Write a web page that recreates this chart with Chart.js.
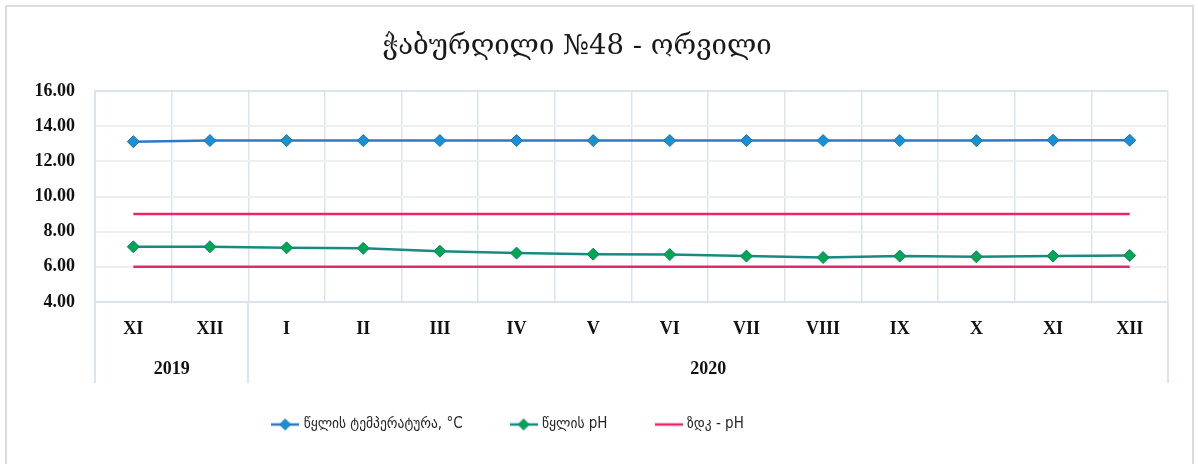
<!DOCTYPE html>
<html>
<head>
<meta charset="utf-8">
<script src="https://cdn.jsdelivr.net/npm/chart.js@4.4.1/dist/chart.umd.min.js"></script>
<style>
  html, body { margin: 0; padding: 0; background: #ffffff; }
  #wrap { position: relative; width: 1198px; height: 464px; overflow: hidden; background: #fff; }
  #frame { position: absolute; left: 5px; top: 5px; width: 1189px; height: 480px; border: 2px solid #dcdcdc; box-sizing: border-box; }
  #c { position: absolute; left: 0; top: 0; }
</style>
</head>
<body>
<div id="wrap">
  <div id="frame"></div>
  <canvas id="c" width="1198" height="464"></canvas>
</div>
<script>
// ---- data ----
const titleText = 'ჭაბურღილი №48 - ორვილი';
const categories = ['XI', 'XII', 'I', 'II', 'III', 'IV', 'V', 'VI', 'VII', 'VIII', 'IX', 'X', 'XI', 'XII'];
const years = ['2019', '2020'];
const yearSpans = [2, 12];
const temperature = [13.12, 13.18, 13.18, 13.18, 13.18, 13.18, 13.18, 13.18, 13.18, 13.18, 13.18, 13.18, 13.2, 13.2];
const waterPH = [7.14, 7.14, 7.08, 7.05, 6.89, 6.78, 6.72, 6.70, 6.61, 6.53, 6.61, 6.57, 6.61, 6.65];
const limitUpper = [9, 9, 9, 9, 9, 9, 9, 9, 9, 9, 9, 9, 9, 9];
const limitLower = [6, 6, 6, 6, 6, 6, 6, 6, 6, 6, 6, 6, 6, 6];
const seriesNames = ['წყლის ტემპერატურა, °C', 'წყლის pH', 'ზდკ - pH'];
const yTicks = { min: 4, max: 16, step: 2 };

// ---- styles ----
const C_TEMP_LINE = '#2f78c4', C_TEMP_PT = '#1790d4', C_TEMP_PT_B = '#1f6fae';
const C_PH_LINE = '#178a82', C_PH_PT = '#00a651', C_PH_PT_B = '#12806a';
const C_LIM = '#e8266e';
const GRID_BLUE = '#dbe3f1', GRID_GRAY = '#efefef';
const tickFont = { family: '"Liberation Serif", "DejaVu Serif", serif', size: 18, weight: 'bold' };

function legendIcon(lineColor, fill, stroke, marker) {
  const c = document.createElement('canvas');
  c.width = 28; c.height = 14;
  const g = c.getContext('2d');
  g.strokeStyle = lineColor; g.lineWidth = 2.5;
  g.beginPath(); g.moveTo(0, 7); g.lineTo(28, 7); g.stroke();
  if (marker) {
    g.fillStyle = fill; g.strokeStyle = stroke; g.lineWidth = 1;
    g.beginPath(); g.moveTo(14, 1.5); g.lineTo(19.5, 7); g.lineTo(14, 12.5); g.lineTo(8.5, 7); g.closePath();
    g.fill(); g.stroke();
  }
  return c;
}
const icons = [
  legendIcon(C_TEMP_LINE, C_TEMP_PT, C_TEMP_PT_B, true),
  legendIcon(C_PH_LINE, C_PH_PT, C_PH_PT_B, true),
  legendIcon(C_LIM, null, null, false)
];

// year group positions (centre index of each group)
const yearCenters = [];
(function () { let s = 0; for (const n of yearSpans) { yearCenters.push(s + (n - 1) / 2); s += n; } })();
const yearBounds = [];
(function () { let s = 0; yearBounds.push(-0.5); for (const n of yearSpans) { s += n; yearBounds.push(s - 0.5); } })();

const titlePlugin = {
  id: 'customTitle',
  afterDraw(chart) {
    const ctx = chart.ctx;
    ctx.save();
    ctx.font = '27.5px "DejaVu Serif", serif';
    ctx.fillStyle = '#1a1a1a';
    ctx.textAlign = 'center';
    ctx.textBaseline = 'middle';
    ctx.fillText(titleText, 577, 47);
    ctx.restore();
  }
};

const groupLinesPlugin = {
  id: 'groupLines',
  afterDraw(chart) {
    const x2 = chart.scales.x2;
    const ctx = chart.ctx;
    ctx.save();
    ctx.strokeStyle = GRID_BLUE;
    ctx.lineWidth = 2;
    const yTop = chart.chartArea.bottom;
    const yBot = chart.chartArea.bottom + 81;
    for (const b of yearBounds) {
      const px = Math.round(x2.getPixelForValue(b));
      ctx.beginPath(); ctx.moveTo(px, yTop); ctx.lineTo(px, yBot); ctx.stroke();
    }
    ctx.restore();
  }
};

// the legend in the reference sits left of the canvas centre and a bit higher
const legendShiftPlugin = {
  id: 'legendShift',
  afterLayout(chart) {
    const lg = chart.legend;
    if (lg) { lg.left -= 80; lg.right -= 80; lg.top -= 20; lg.bottom -= 20; }
  }
};

new Chart(document.getElementById('c'), {
  type: 'line',
  data: {
    labels: categories,
    datasets: [
      { label: seriesNames[0], data: temperature, borderColor: C_TEMP_LINE, backgroundColor: C_TEMP_PT,
        pointBackgroundColor: C_TEMP_PT, pointBorderColor: C_TEMP_PT_B, pointBorderWidth: 1,
        pointStyle: 'rectRot', pointRadius: 6, borderWidth: 2.5, tension: 0 },
      { label: seriesNames[1], data: waterPH, borderColor: C_PH_LINE, backgroundColor: C_PH_PT,
        pointBackgroundColor: C_PH_PT, pointBorderColor: C_PH_PT_B, pointBorderWidth: 1,
        pointStyle: 'rectRot', pointRadius: 6, borderWidth: 2.5, tension: 0 },
      { label: seriesNames[2], data: limitUpper, borderColor: C_LIM, backgroundColor: C_LIM,
        pointRadius: 0, borderWidth: 2.5 },
      { label: seriesNames[2] + ' ', data: limitLower, borderColor: C_LIM, backgroundColor: C_LIM,
        pointRadius: 0, borderWidth: 2.5 }
    ]
  },
  options: {
    responsive: false,
    animation: false,
    layout: { padding: { left: 10, right: 30, top: 91, bottom: 2 } },
    plugins: {
      title: { display: false },
      tooltip: { enabled: false },
      legend: {
        position: 'bottom',
        labels: {
          usePointStyle: true,
          pointStyleWidth: 22,
          padding: 50,
          color: '#262626',
          font: { family: '"DejaVu Sans Condensed", "DejaVu Sans", sans-serif', size: 15 },
          generateLabels(chart) {
            const items = Chart.defaults.plugins.legend.labels.generateLabels(chart);
            return items.filter(it => it.datasetIndex < 3).map(it => {
              it.pointStyle = icons[it.datasetIndex];
              return it;
            });
          }
        }
      }
    },
    scales: {
      x: {
        type: 'category',
        offset: true,
        grid: { offset: true, color: GRID_BLUE, lineWidth: 1.5, drawTicks: false },
        border: { display: true, color: GRID_BLUE, width: 2 },
        ticks: { font: tickFont, color: '#111', padding: 17, autoSkip: false, maxRotation: 0 },
        afterFit(s) { s.height = 45; }
      },
      x2: {
        type: 'linear',
        position: 'bottom',
        min: -0.5,
        max: categories.length - 0.5,
        grid: { display: false, drawTicks: false },
        border: { display: false },
        afterBuildTicks(s) { s.ticks = yearCenters.map(v => ({ value: v })); },
        ticks: {
          font: tickFont, color: '#111', padding: 12, autoSkip: false, maxRotation: 0,
          callback(value) { const i = yearCenters.indexOf(value); return i >= 0 ? years[i] : ''; }
        },
        afterFit(s) { s.height = 40; }
      },
      y: {
        min: yTicks.min, max: yTicks.max,
        ticks: { stepSize: yTicks.step, font: tickFont, color: '#111', padding: 20,
                 callback: v => Number(v).toFixed(2) },
        grid: { drawTicks: false, lineWidth: 2,
                color: ctx => (ctx.tick && ctx.tick.value === yTicks.max) ? GRID_BLUE : GRID_GRAY },
        border: { display: true, color: GRID_BLUE, width: 2 },
        afterFit(s) { s.width = 85; }
      }
    }
  },
  plugins: [titlePlugin, groupLinesPlugin, legendShiftPlugin]
});
</script>
</body>
</html>
